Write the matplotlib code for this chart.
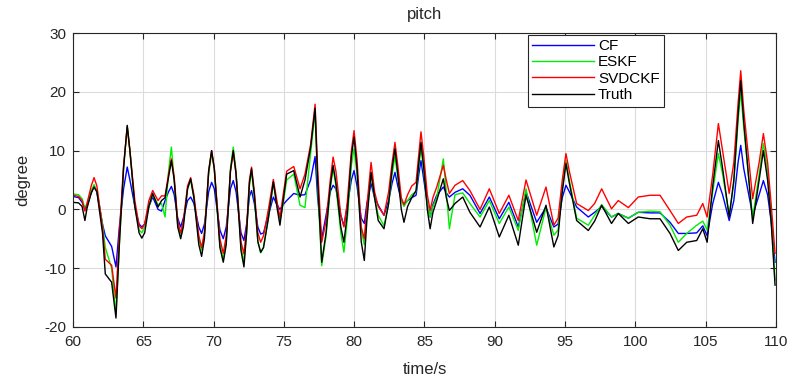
import matplotlib
matplotlib.use("Agg")
import matplotlib.pyplot as plt

plt.rcParams['font.family'] = ['Liberation Sans', 'DejaVu Sans']
plt.rcParams['axes.unicode_minus'] = False

time_s = [60.0, 60.4, 60.65, 60.85, 61.0, 61.3, 61.5, 61.7, 62.1, 62.3, 62.75, 63.06, 63.3, 63.6,
          63.86, 64.05, 64.4, 64.7, 64.9, 65.1, 65.4, 65.67, 66.05, 66.3, 66.55, 66.8, 67.0, 67.2,
          67.45, 67.66, 67.85, 68.15, 68.37, 68.6, 68.95, 69.15, 69.35, 69.65, 69.86, 70.05, 70.45,
          70.69, 70.9, 71.2, 71.4, 71.6, 71.95, 72.16, 72.35, 72.55, 72.7, 72.9, 73.15, 73.35, 73.55,
          73.9, 74.25, 74.5, 74.72, 74.95, 75.2, 75.7, 76.15, 76.5, 76.9, 77.22, 77.4, 77.69, 78.0,
          78.3, 78.5, 78.7, 79.05, 79.27, 79.5, 79.8, 79.99, 80.2, 80.5, 80.72, 80.9, 81.2, 81.45,
          81.71, 82.12, 82.45, 82.7, 82.9, 83.1, 83.35, 83.54, 83.8, 84.1, 84.4, 84.6, 84.75, 84.95,
          85.2, 85.4, 85.6, 85.87, 86.34, 86.55, 86.77, 87.17, 87.72, 88.23, 88.95, 89.61, 90.32,
          91.0, 91.67, 92.22, 92.98, 93.64, 94.2, 94.5, 94.8, 95.06, 95.3, 95.82, 96.65, 97.1, 97.6,
          98.3, 98.78, 99.5, 100.2, 101.04, 101.75, 102.46, 103.05, 103.65, 104.36, 104.79, 105.1,
          105.5, 105.9, 106.2, 106.67, 107.0, 107.3, 107.49, 107.7, 108.34, 108.8, 109.1, 109.4,
          109.65, 109.93]

truth = [1.2, 1.1, 0.5, -1.9, 0.2, 2.8, 3.8, 3.0, -4.0, -11.0, -12.4, -18.5, -6.0, 7.0,
         14.3, 10.0, 0.5, -4.0, -4.9, -4.0, 0.5, 2.7, 0.4, 1.5, 2.0, 5.5, 8.3, 5.0,
         -3.0, -5.0, -3.0, 3.5, 5.2, 2.0, -6.0, -8.0, -5.0, 6.5, 10.0, 7.0, -6.5,
         -9.0, -6.0, 6.5, 10.0, 6.0, -7.0, -9.8, -4.0, 4.5, 6.9, 2.5, -5.5, -7.3, -6.5,
         -1.5, 4.7, 0.5, -2.7, 1.5, 6.0, 6.6, 2.1, 5.0, 10.5, 17.2, 5.0, -9.0, -4.0,
         4.0, 7.5, 4.5, -3.0, -5.6, -1.0, 9.0, 12.3, 7.0, -5.5, -8.7, -2.0, 6.3, 2.0,
         -1.9, -3.3, 1.0, 7.0, 10.3, 6.0, 0.0, -2.2, 0.5, 2.0, 3.2, 8.0, 11.4, 7.0,
         0.0, -3.3, -0.5, 1.5, 5.2, 2.0, -0.2, 1.0, 2.1, -0.5, -3.0, 0.4, -4.7,
         -1.0, -6.1, 2.4, -3.9, 0.7, -6.4, -4.5, 3.0, 7.8, 4.5, -1.9, -3.6, -2.0, 0.7,
         -2.4, -0.7, -2.4, -1.3, -1.6, -1.6, -4.1, -7.0, -5.6, -5.3, -3.3, -5.6,
         4.0, 11.7, 7.0, -1.3, 5.0, 16.0, 21.9, 15.0, -2.4, 5.0, 10.0, 5.0,
         -2.0, -12.9]

svdckf = [2.4, 2.2, 1.5, -0.3, 1.0, 4.0, 5.4, 4.0, -3.0, -8.5, -9.5, -15.1, -4.0, 7.5,
          14.0, 10.0, 1.5, -2.8, -3.3, -2.5, 1.5, 3.2, 1.5, 2.3, 2.3, 6.0, 8.6, 5.5,
          -2.0, -4.0, -2.0, 4.0, 5.4, 2.5, -4.5, -6.5, -4.0, 6.5, 10.0, 7.0, -5.0,
          -7.5, -4.5, 6.5, 9.8, 6.0, -5.5, -7.6, -3.0, 5.0, 7.2, 3.0, -4.0, -5.6, -4.5,
          0.0, 5.1, 1.5, -1.4, 2.5, 6.5, 7.3, 3.5, 6.0, 11.0, 17.9, 7.0, -5.6, -2.0,
          5.0, 8.9, 6.5, -1.0, -3.0, 1.0, 10.0, 13.4, 8.5, -3.0, -5.0, 0.5, 8.0, 3.0,
          0.5, -1.0, 3.0, 8.0, 11.4, 7.5, 2.0, 0.8, 2.5, 4.0, 4.6, 9.5, 13.2, 9.0,
          2.5, -0.2, 2.0, 3.8, 7.5, 5.0, 2.7, 4.1, 4.9, 3.2, 0.0, 3.5, -0.7,
          2.4, -1.9, 5.0, -1.0, 3.8, -2.7, -1.5, 5.0, 9.5, 6.5, 1.0, -0.2, 1.0, 3.5,
          0.1, 1.5, 0.3, 2.1, 2.4, 2.4, -0.2, -2.4, -1.3, -1.0, 1.0, -1.3,
          6.0, 14.6, 10.0, 2.7, 8.0, 18.0, 23.6, 17.0, 1.8, 8.0, 12.9, 8.0,
          1.0, -7.5]

eskf = [2.6, 2.5, 1.8, 0.2, 1.0, 3.2, 4.2, 3.2, -2.5, -6.5, -10.0, -17.8, -6.0, 7.0,
        14.2, 10.0, 0.5, -3.5, -4.0, -3.0, 0.5, 2.5, 0.8, 1.0, -1.3, 6.5, 10.6, 5.0,
        -2.5, -4.5, -2.5, 3.5, 5.0, 2.0, -5.0, -7.0, -4.0, 6.0, 9.5, 7.0, -6.0,
        -8.5, -5.5, 7.0, 10.6, 6.5, -6.5, -9.0, -4.0, 4.0, 6.5, 2.0, -5.5, -7.4, -6.5,
        -1.5, 4.5, 1.0, -2.0, 1.0, 5.0, 6.0, 0.7, 0.3, 9.5, 16.5, 4.0, -9.6, -4.5,
        3.5, 7.0, 4.0, -4.0, -7.3, -2.0, 7.5, 10.3, 6.0, -3.5, -6.0, -1.0, 6.0, 2.0,
        -1.0, -2.8, 1.0, 6.0, 9.0, 5.5, 1.5, 0.5, 1.5, 2.5, 3.0, 7.5, 10.5, 6.5,
        1.0, -1.3, 0.5, 2.0, 8.6, 3.0, -3.3, 2.5, 2.8, 1.0, -1.3, 1.5, -2.4,
        0.4, -3.6, 3.5, -6.1, 0.3, -4.4, -3.5, 3.5, 8.3, 5.0, -1.5, -2.7, -1.0, 0.8,
        -1.3, -0.7, -1.5, -0.5, -0.3, -0.4, -2.7, -5.6, -4.1, -2.7, -2.0, -3.5,
        3.0, 9.5, 6.0, -1.0, 4.5, 15.0, 20.2, 14.0, -1.5, 6.0, 11.2, 6.5,
        -1.0, -12.0]

cf = [2.2, 2.0, 1.2, 0.0, 0.6, 2.8, 3.9, 3.0, -2.5, -4.5, -6.3, -9.8, -3.0, 3.5,
      7.2, 5.0, 0.5, -2.5, -3.0, -2.5, 0.5, 2.1, 0.0, -0.3, 1.5, 3.0, 3.9, 2.5,
      -1.5, -3.0, -1.5, 1.5, 2.1, 1.0, -3.0, -4.1, -2.5, 3.0, 4.6, 3.5, -3.5,
      -5.0, -3.0, 3.5, 4.9, 3.0, -4.0, -5.3, -2.5, 2.2, 3.2, 1.0, -3.0, -4.2, -4.0,
      -1.0, 2.1, 0.8, 0.0, 0.8, 1.5, 2.7, 2.4, 2.5, 5.0, 9.0, 2.0, -5.0, -1.0,
      3.0, 4.1, 3.5, -1.0, -2.8, 0.5, 5.0, 6.6, 4.0, -1.5, -2.4, 1.0, 4.4, 2.0,
      0.7, -1.0, 1.5, 4.5, 6.3, 4.0, 1.5, 0.9, 1.5, 2.0, 2.4, 6.0, 8.3, 5.0,
      1.0, -1.3, 0.8, 2.4, 3.8, 2.8, 2.1, 2.9, 3.5, 2.4, -0.7, 2.1, -1.6,
      1.2, -3.0, 3.0, -2.2, 0.3, -3.0, -2.5, 2.0, 4.1, 3.0, 0.4, -1.3, -0.5, 0.5,
      -1.3, -0.7, -1.5, -0.5, -0.6, -0.6, -2.2, -4.1, -4.1, -4.0, -2.8, -4.5,
      1.0, 4.6, 2.5, -1.9, 1.5, 8.0, 10.9, 7.0, -1.0, 2.5, 4.9, 2.5,
      -2.0, -9.0]

labels = ['CF', 'ESKF', 'SVDCKF', 'Truth']
colors = ['#0000ff', '#00ee00', '#ff0000', '#000000']
series = [cf, eskf, svdckf, truth]

fig = plt.figure(figsize=(7.93, 3.85), dpi=100)
ax = fig.add_axes([0.092, 0.151, 0.8866, 0.763])

for s, lab, c in zip(series, labels, colors):
    ax.plot(time_s, s, color=c, lw=1.0, label=lab)

ax.set_xlim(60, 110)
ax.set_ylim(-20, 30)
ax.set_xticks(range(60, 111, 5))
ax.set_yticks(range(-20, 31, 10))
ax.grid(True, color='#dcdcdc', lw=0.8)
ax.set_axisbelow(True)
ax.tick_params(direction='in', top=True, right=True, labelsize=11, length=4,
               color='#262626', labelcolor='#262626')
ax.tick_params(axis='x', pad=6)
ax.tick_params(axis='y', pad=5)
for sp in ax.spines.values():
    sp.set_color('#262626')
    sp.set_linewidth(0.8)
ax.set_title('pitch', fontsize=12, pad=10, color='#262626')
ax.set_xlabel('time/s', fontsize=12, labelpad=9, color='#262626')
ax.set_ylabel('degree', fontsize=12, labelpad=10, color='#262626')

leg = ax.legend(loc='upper left', bbox_to_anchor=(0.647, 0.995), fontsize=11,
                handlelength=4.0, fancybox=False, framealpha=1, edgecolor='#262626',
                borderpad=0.3, labelspacing=0.15, handletextpad=0.3, borderaxespad=0)
leg.get_frame().set_linewidth(0.8)

fig.savefig('out.png', dpi=100)
